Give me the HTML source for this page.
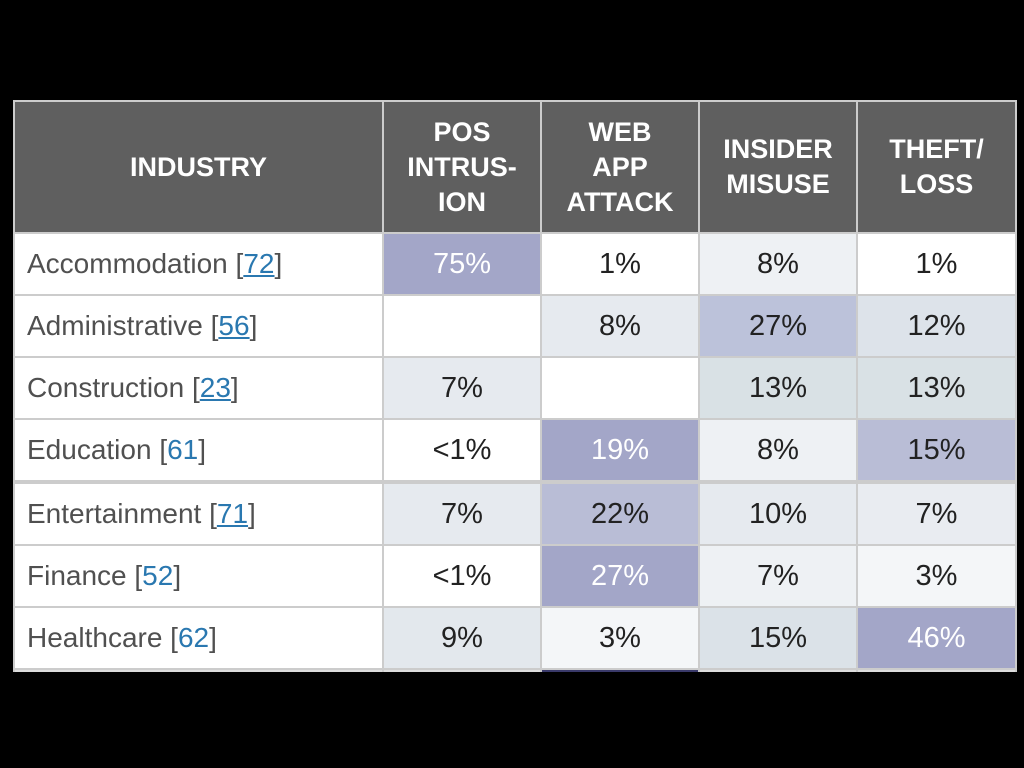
<!DOCTYPE html>
<html><head><meta charset="utf-8"><style>
body{margin:0;background:#000;width:1024px;height:768px;overflow:hidden;font-family:"Liberation Sans","DejaVu Sans",sans-serif}
#tbl{position:absolute;left:13px;top:100px;width:1004px;height:572px;background:#ccc}
.c{position:absolute;display:flex;align-items:center;justify-content:center;box-sizing:border-box}
.h{background:#5f5f5f;color:#fff;font-weight:bold;font-size:27px;line-height:35px;text-align:center}
.v{font-size:29px;color:#222}
.l{justify-content:flex-start;padding-left:12px;font-size:28px;color:#505050;background:#fff}
.n{color:#2a78b0}.u{text-decoration:underline}
</style></head><body>
<div id="tbl"></div>
<script>
const industries=["Accommodation","Administrative","Construction","Education","Entertainment","Finance","Healthcare"];
const counts=[72,56,23,61,71,52,62];
const underlined=[1,1,1,0,1,0,0];
const headers=["POS<br>INTRUS-<br>ION","WEB<br>APP<br>ATTACK","INSIDER<br>MISUSE","THEFT/<br>LOSS"];
const values=[["75%","1%","8%","1%"],["","8%","27%","12%"],["7%","","13%","13%"],["<1%","19%","8%","15%"],["7%","22%","10%","7%"],["<1%","27%","7%","3%"],["9%","3%","15%","46%"]];
const fills=[["#a3a6c8","#fff","#eef1f4","#fff"],["#fff","#e6eaef","#bcc2da","#dde3ea"],["#e6eaef","#fff","#d9e1e5","#d9e1e5"],["#fff","#a3a6c8","#eef1f4","#b9bdd6"],["#e6eaef","#b9bdd6","#e6eaef","#e9ecf1"],["#fff","#a3a6c8","#eef1f4","#f4f6f8"],["#e3e8ed","#f4f6f8","#dbe2e8","#a3a6c8"]];
const whiteText=[[1,0,0,0],[0,0,0,0],[0,0,0,0],[0,1,0,0],[0,0,0,0],[0,1,0,0],[0,0,0,1]];
const T=document.getElementById('tbl');
const colX=[2,371,529,687,845],colW=[367,156,156,156,157];
const rowY=[134,196,258,320,384,446,508],rowH=60;
function cell(x,y,w,h,cls,html){const d=document.createElement('div');d.className='c '+cls;d.style.left=x+'px';d.style.top=y+'px';d.style.width=w+'px';d.style.height=h+'px';d.innerHTML=html;T.appendChild(d);return d;}
let hd=cell(colX[0],2,colW[0],130,'h','INDUSTRY');


headers.forEach((t,j)=>{const d=cell(colX[j+1],2,colW[j+1],130,'h',t);

});
industries.forEach((ind,i)=>{
const l=cell(colX[0],rowY[i],colW[0],rowH,'l',ind+' [<span class="n'+(underlined[i]?' u':'')+'">'+counts[i]+'</span>]');


values[i].forEach((v,j)=>{const d=cell(colX[j+1],rowY[i],colW[j+1],rowH,'v',v.replace('<','&lt;'));
d.style.background=fills[i][j];if(whiteText[i][j])d.style.color='#fff';

});
});
[0,1,2,3,4].forEach(j=>{const d=cell(colX[j],570,colW[j],2,'',''); d.style.background=j==2?'#3a3a6a':'#ddd';

});
</script>
</body></html>
